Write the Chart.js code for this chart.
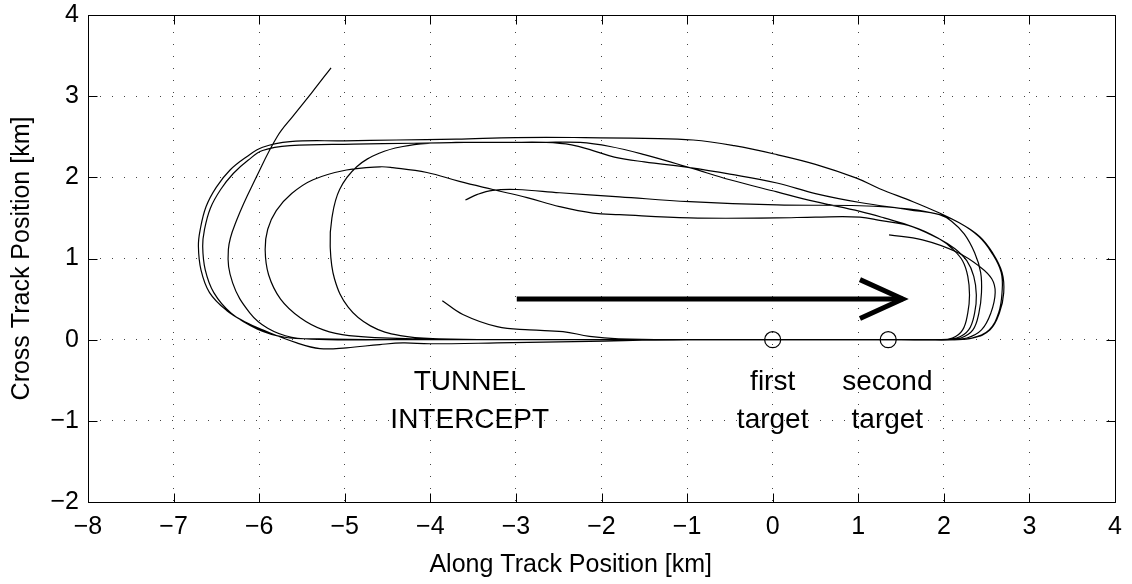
<!DOCTYPE html>
<html><head><meta charset="utf-8">
<script src="https://cdn.jsdelivr.net/npm/chart.js@4"></script>
<style>html,body{margin:0;padding:0;background:#fff;}canvas{display:block;}</style>
</head><body>
<canvas id="c" width="1132" height="584"></canvas>
<script>
// ---- data (km) ----
const xTickValues = [-8,-7,-6,-5,-4,-3,-2,-1,0,1,2,3,4];
const yTickValues = [-2,-1,0,1,2,3,4];

// entry leg and first racetrack loop
const passA = [[-5.16,3.35],[-5.38,3.05],[-5.60,2.76],[-5.79,2.50],[-6.03,2.01],[-6.26,1.48],[-6.36,1.11],[-6.31,0.70],[-6.11,0.33],[-5.90,0.14],[-5.62,0.03],[-5.20,0.00],[-4.50,0.00],[-3.50,0.00],[-2.00,0.00],[-0.50,0.00],[1.00,0.00],[1.80,0.00],[2.10,0.00],[2.34,0.02],[2.54,0.12],[2.65,0.33],[2.70,0.58],[2.68,0.83],[2.57,1.07],[2.42,1.27],[2.18,1.44],[1.95,1.56],[1.64,1.70],[1.25,1.86],[0.98,1.99],[0.50,2.16],[0.05,2.28],[-0.45,2.39],[-0.93,2.46],[-1.50,2.48],[-2.20,2.49],[-3.00,2.49],[-3.70,2.47],[-4.40,2.46],[-5.00,2.45]];
const passB = [[-5.64,2.44],[-5.96,2.37],[-6.15,2.25],[-6.34,2.09],[-6.50,1.88],[-6.62,1.64],[-6.69,1.35],[-6.71,1.15],[-6.68,0.86],[-6.58,0.58],[-6.38,0.36],[-6.15,0.21],[-5.96,0.12],[-5.56,-0.04],[-5.29,-0.11],[-4.98,-0.10],[-4.59,-0.06],[-4.32,-0.04],[-4.01,-0.05],[-3.22,-0.04],[-2.14,-0.02],[-1.00,0.00],[0.50,0.00],[1.50,0.00],[1.92,0.00],[2.10,0.02],[2.22,0.12],[2.28,0.33],[2.30,0.55],[2.28,0.78],[2.22,0.97],[2.10,1.12],[1.95,1.24],[1.64,1.39],[1.25,1.47],[1.02,1.51],[0.50,1.51],[0.05,1.50],[-0.97,1.50],[-1.79,1.54],[-2.10,1.56],[-2.49,1.64],[-2.87,1.75],[-3.27,1.85],[-3.66,1.95],[-4.04,2.06],[-4.44,2.12]];
const passC = [[-4.59,2.13],[-4.98,2.09],[-5.37,1.97],[-5.62,1.80],[-5.80,1.59],[-5.90,1.36],[-5.93,1.11],[-5.89,0.80],[-5.75,0.50],[-5.52,0.27],[-5.25,0.12],[-4.95,0.05],[-4.21,0.01],[-3.00,0.00],[-1.50,0.00],[0.00,0.00],[1.20,0.00],[1.80,0.00],[1.95,0.00],[2.15,0.02],[2.29,0.12],[2.36,0.33],[2.38,0.55],[2.35,0.78],[2.27,0.97],[2.13,1.12],[1.95,1.24],[1.64,1.39],[1.30,1.50],[1.02,1.58],[0.50,1.70],[0.05,1.82],[-0.50,1.97],[-0.97,2.12],[-1.50,2.28],[-1.90,2.38],[-2.25,2.43],[-2.70,2.43],[-3.20,2.43],[-3.70,2.43],[-4.00,2.42]];
const passD = [[-4.32,2.38],[-4.59,2.30],[-4.86,2.13],[-5.06,1.85],[-5.15,1.50],[-5.17,1.15],[-5.12,0.75],[-4.96,0.40],[-4.70,0.17],[-4.35,0.05],[-3.90,0.01],[-3.00,0.00],[-1.50,0.00],[0.00,0.00],[1.20,0.00],[1.80,0.00],[2.10,0.00],[2.33,0.02],[2.53,0.12],[2.64,0.33],[2.68,0.58],[2.67,0.83],[2.56,1.07],[2.41,1.27],[2.18,1.44],[1.95,1.54],[1.60,1.60],[1.02,1.69],[0.50,1.80],[0.05,1.93],[-0.50,2.04],[-0.97,2.12],[-1.50,2.19],[-1.85,2.25],[-2.10,2.33],[-2.35,2.40],[-2.65,2.43],[-3.10,2.43],[-3.60,2.43],[-4.20,2.42],[-4.90,2.41],[-5.64,2.39]];
const passE = [[-5.96,2.33],[-6.13,2.21],[-6.30,2.05],[-6.45,1.85],[-6.57,1.62],[-6.64,1.35],[-6.66,1.15],[-6.63,0.86],[-6.53,0.58],[-6.33,0.33],[-6.02,0.13],[-5.70,0.03],[-5.30,0.01],[-4.50,0.00],[-3.00,0.00],[-1.50,0.00],[0.00,0.00],[1.20,0.00],[1.80,0.00],[2.04,0.00],[2.20,0.02],[2.34,0.12],[2.41,0.33],[2.44,0.58],[2.43,0.83],[2.36,1.07],[2.24,1.30],[2.09,1.46],[1.95,1.54],[1.60,1.61],[1.02,1.65],[0.05,1.66],[-0.97,1.70],[-1.79,1.76],[-2.49,1.81],[-2.99,1.85],[-3.27,1.84],[-3.45,1.79],[-3.59,1.72]];
// second track
const passF = [[-3.86,0.48],[-3.62,0.31],[-3.22,0.16],[-2.84,0.12],[-2.45,0.10],[-2.14,0.04],[-1.80,0.01],[-1.00,0.00],[0.00,0.00],[1.20,0.00],[1.80,0.00],[2.07,0.00],[2.27,0.02],[2.44,0.12],[2.55,0.33],[2.60,0.58],[2.56,0.75],[2.42,0.90],[2.15,1.08],[1.75,1.23],[1.36,1.29]];

const targetMarks = [[0,0],[1.35,0]];
const arrowShaft = [[-2.99,0.5],[1.52,0.5]];
const arrowHead = [[1.02,0.74],[1.52,0.5],[1.02,0.26]];

const noteTexts = ['TUNNEL','INTERCEPT','first','target','second','target'];
const noteX = [-3.54,-3.54,0,0,1.34,1.34];
const noteY = [-0.53,-0.99,-0.53,-0.99,-0.53,-0.99];

const xTitle = 'Along Track Position [km]';
const xTitleAt = -2.36;   // centre of the x-axis title, along-track km
const yTitle = 'Cross Track Position [km]';

// ---- chart ----
const FONT = '"Liberation Sans", Arial, Helvetica, sans-serif';
const FS = 25;
const NOTE_FS = 28;
const toPts = a => a.map(p => ({x: p[0], y: p[1]}));
const fmt = v => (v < 0 ? '\u2212' + Math.abs(v) : String(v));

const trackStyle = {borderColor:'#000', borderWidth:1.2, pointRadius:0, tension:0.4, fill:false};

const framePlugin = {
  id: 'frame',
  afterDraw(chart) {
    const {ctx, chartArea: a, scales: {x, y}} = chart;
    ctx.save();
    ctx.strokeStyle = '#000';
    ctx.lineWidth = 1;
    const L = Math.round(a.left) + 0.5, R = Math.round(a.right) + 0.5;
    const T = Math.round(a.top) + 0.5, B = Math.round(a.bottom) + 0.5;
    ctx.beginPath();
    ctx.rect(L, T, R - L, B - T);
    const len = 9;
    xTickValues.forEach(v => {
      const px = Math.round(x.getPixelForValue(v)) + 0.5;
      ctx.moveTo(px, B); ctx.lineTo(px, B - len);
      ctx.moveTo(px, T); ctx.lineTo(px, T + len);
    });
    yTickValues.forEach(v => {
      const py = Math.round(y.getPixelForValue(v)) + 0.5;
      ctx.moveTo(L, py); ctx.lineTo(L + len, py);
      ctx.moveTo(R, py); ctx.lineTo(R - len, py);
    });
    ctx.stroke();
    ctx.fillStyle = '#000';
    ctx.textAlign = 'center';
    ctx.textBaseline = 'middle';
    ctx.font = NOTE_FS + 'px ' + FONT;
    noteTexts.forEach((t, i) => {
      ctx.fillText(t, x.getPixelForValue(noteX[i]), y.getPixelForValue(noteY[i]));
    });
    ctx.font = FS + 'px ' + FONT;
    ctx.fillText(xTitle, x.getPixelForValue(xTitleAt), x.bottom - 19);
    ctx.restore();
  }
};

new Chart(document.getElementById('c'), {
  type: 'line',
  data: {
    datasets: [
      Object.assign({data: toPts(passA.concat(passB, passC, passD, passE))}, trackStyle),
      Object.assign({data: toPts(passF)}, trackStyle),
      {data: toPts(arrowShaft), borderColor:'#000', borderWidth:5, pointRadius:0, tension:0, borderCapStyle:'butt'},
      {data: toPts(arrowHead), borderColor:'#000', borderWidth:5, pointRadius:0, tension:0, borderCapStyle:'butt', borderJoinStyle:'miter'},
      {data: toPts(targetMarks), showLine:false, pointRadius:8, pointHoverRadius:8, pointBorderWidth:1.2,
       pointBorderColor:'#000', pointBackgroundColor:'rgba(0,0,0,0)', borderColor:'#000'}
    ]
  },
  options: {
    responsive: false,
    animation: false,
    devicePixelRatio: 1,
    layout: {padding: {top: 15, right: 17, left: 0, bottom: 0}},
    plugins: {legend: {display: false}, tooltip: {enabled: false}},
    scales: {
      x: {
        type: 'linear', min: -8, max: 4,
        afterFit(s) { s.height = 82; s.paddingLeft = 0; s.paddingRight = 0; },
        ticks: {stepSize: 1, color: '#000', padding: 10, maxRotation: 0, font: {family: FONT, size: FS}, callback: fmt},
        grid: {color: '#444', lineWidth: 1, drawTicks: false},
        border: {display: false, dash: [1, 11], dashOffset: 7},
        title: {display: false}
      },
      y: {
        type: 'linear', min: -2, max: 4,
        afterFit(s) { s.width = 88; s.paddingTop = 0; s.paddingBottom = 0; },
        ticks: {stepSize: 1, color: '#000', padding: 9, font: {family: FONT, size: FS}, callback: fmt},
        grid: {color: '#444', lineWidth: 1, drawTicks: false},
        border: {display: false, dash: [1, 11]},
        title: {display: true, text: yTitle, color: '#000', font: {family: FONT, size: FS}, padding: {top: 7, bottom: 0}}
      }
    }
  },
  plugins: [framePlugin]
});
</script>
</body></html>
